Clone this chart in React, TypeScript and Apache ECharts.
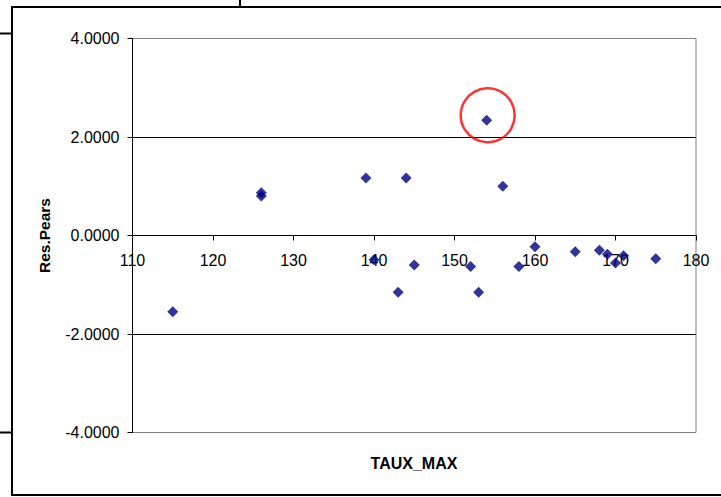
import React, { useEffect, useRef } from "react";
import * as echarts from "echarts";

// Pearson residuals against TAUX_MAX
const tauxMax = [115, 126, 126, 139, 140, 143, 144, 145, 152, 153, 154, 156, 158, 160, 165, 168, 169, 170, 171, 175];
const resPears = [-1.55, 0.87, 0.8, 1.17, -0.49, -1.15, 1.17, -0.6, -0.63, -1.15, 2.34, 1.0, -0.63, -0.23, -0.33, -0.3, -0.38, -0.56, -0.41, -0.47];

// the residual singled out with a red ring
const flagged = [[154, 2.34]];

const xTicks = { min: 110, max: 180, step: 10 };
const yTicks = { min: -4, max: 4, step: 2 };

const FONT = "Arial, 'Liberation Sans', sans-serif";

const PLOT = { left: 132.5, top: 38.5, width: 563.5, height: 394 };

export default function App() {
  const ref = useRef<HTMLDivElement>(null);

  useEffect(() => {
    if (!ref.current) return;
    const chart = echarts.init(ref.current, undefined, { renderer: "svg" });
    const points = tauxMax.map((x, i) => [x, resPears[i]]);
    // the horizontal axis crosses the vertical one at zero
    const zeroShift = -PLOT.height * ((0 - yTicks.min) / (yTicks.max - yTicks.min));

    chart.setOption({
      animation: false,
      backgroundColor: "#ffffff",
      grid: {
        ...PLOT,
        show: true,
        borderColor: "#808080",
        borderWidth: 1,
        backgroundColor: "transparent",
      },
      xAxis: {
        type: "value",
        min: xTicks.min,
        max: xTicks.max,
        interval: xTicks.step,
        position: "bottom",
        offset: zeroShift,
        axisLine: { show: true, onZero: false, lineStyle: { color: "#000", width: 1 } },
        axisTick: { show: true, length: 5, lineStyle: { color: "#000" } },
        axisLabel: { color: "#000", fontSize: 16, fontFamily: FONT, margin: 17 },
        splitLine: { show: false },
      },
      yAxis: {
        type: "value",
        min: yTicks.min,
        max: yTicks.max,
        interval: yTicks.step,
        name: "Res.Pears",
        nameLocation: "middle",
        nameGap: 80,
        nameTextStyle: { color: "#000", fontSize: 15.5, fontWeight: "bold", fontFamily: FONT },
        axisLine: { show: true, onZero: false, lineStyle: { color: "#000", width: 1 } },
        axisTick: { show: true, length: 5, lineStyle: { color: "#000" } },
        axisLabel: {
          color: "#000",
          fontSize: 16,
          fontFamily: FONT,
          margin: 13,
          formatter: (v: number) => v.toFixed(4),
        },
        splitLine: {
          show: true,
          showMinLine: false,
          showMaxLine: false,
          lineStyle: { color: "#000", width: 1 },
        },
      },
      graphic: [
        {
          type: "rect",
          shape: { x: 12, y: 7, width: 740, height: 488 },
          style: { fill: "none", stroke: "#000", lineWidth: 2 },
          silent: true,
        },
        { type: "line", shape: { x1: 240, y1: 0, x2: 240, y2: 7 }, style: { stroke: "#000", lineWidth: 2 } },
        { type: "line", shape: { x1: 0, y1: 33.5, x2: 12, y2: 33.5 }, style: { stroke: "#000", lineWidth: 2 } },
        { type: "line", shape: { x1: 0, y1: 432.5, x2: 12, y2: 432.5 }, style: { stroke: "#000", lineWidth: 2 } },
        {
          type: "text",
          x: 414,
          y: 463,
          style: {
            text: "TAUX_MAX",
            fill: "#000",
            font: `bold 16px ${FONT}`,
            align: "center",
            verticalAlign: "middle",
          },
        },
      ],
      series: [
        {
          type: "scatter",
          data: points,
          symbol: "diamond",
          symbolSize: 11,
          itemStyle: { color: "#000080" },
          z: 3,
        },
        {
          type: "scatter",
          data: flagged,
          symbol: "circle",
          symbolSize: 54,
          symbolOffset: [1, -5],
          itemStyle: { color: "none", borderColor: "#ff0000", borderWidth: 2.5 },
          silent: true,
          z: 4,
        },
      ],
    });

    return () => chart.dispose();
  }, []);

  return (
    <div
      ref={ref}
      style={{ position: "absolute", left: 0, top: 0, width: 721, height: 497, background: "#fff" }}
    />
  );
}
